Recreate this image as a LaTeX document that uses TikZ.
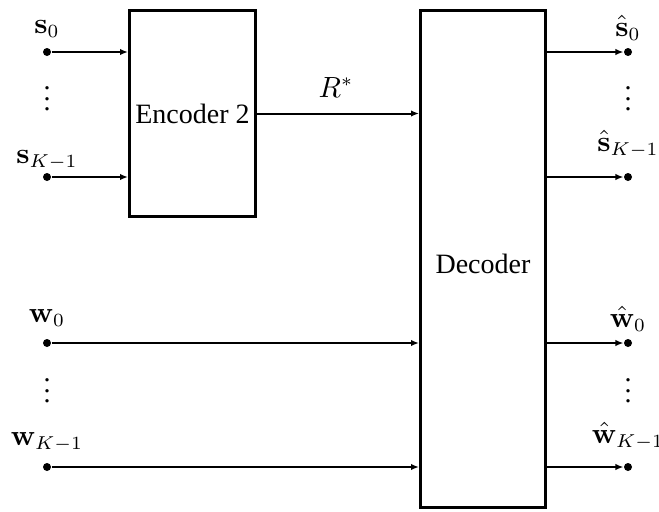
\documentclass[tikz,border=0pt]{standalone}
\usepackage[no-math]{fontspec}
\setmainfont{Liberation Serif}
\usetikzlibrary{arrows.meta}
\begin{document}
\begin{tikzpicture}[x=0.375pt,y=-0.375pt,
  font=\fontsize{10.5}{12}\selectfont,
  blockbox/.style={draw,line width=1.1pt,inner sep=0pt},
  conn/.style={line width=0.75pt,-{Latex[length=3pt,width=2.4pt]}},
  term/.style={circle,fill,inner sep=0pt,minimum size=3pt},
  lbl/.style={anchor=base,inner sep=0pt},
  vd/.style={inner sep=0pt}]
\useasboundingbox (0,0) rectangle (659,511);
% blocks
\node[blockbox,minimum width=126*0.375pt,minimum height=206*0.375pt] (enc) at (192.5,113.5) {};
\node at (enc.center) (enct) {Encoder 2};
\node[blockbox,minimum width=125*0.375pt,minimum height=497*0.375pt] (dec) at (483,259) {};
\node at (483,264) (dect) {Decoder};
% left terminals
\node[term] (s0) at (47,52) {};
\node[term] (sK) at (47,177) {};
\node[term] (w0) at (47,343) {};
\node[term] (wK) at (47,467) {};
% right terminals
\node[term] (hs0) at (628,52) {};
\node[term] (hsK) at (628,177) {};
\node[term] (hw0) at (628,343) {};
\node[term] (hwK) at (628,467) {};
% connectors
\draw[conn] (s0) -- (s0 -| enc.west);
\draw[conn] (sK) -- (sK -| enc.west);
\draw[conn] (enc.east) -- (enc.east -| dec.west);
\draw[conn] (w0) -- (w0 -| dec.west);
\draw[conn] (wK) -- (wK -| dec.west);
\draw[conn] (hs0 -| dec.east) -- (hs0);
\draw[conn] (hsK -| dec.east) -- (hsK);
\draw[conn] (hw0 -| dec.east) -- (hw0);
\draw[conn] (hwK -| dec.east) -- (hwK);
% labels
\node[lbl] (rs) at (336,97) {$R^*$};
\node[lbl] (ls0) at (47,33) {$\mathbf{s}_0$};
\node[lbl] (lsK) at (47,163) {$\mathbf{s}_{K-1}$};
\node[lbl] (lw0) at (47,322) {$\mathbf{w}_0$};
\node[lbl] (lwK) at (47,445) {$\mathbf{w}_{K-1}$};
\node[lbl] (lhs0) at (628,36) {$\hat{\mathbf{s}}_0$};
\node[lbl] (lhsK) at (628,151) {$\hat{\mathbf{s}}_{K-1}$};
\node[lbl] (lhw0) at (628,327) {$\hat{\mathbf{w}}_0$};
\node[lbl] (lhwK) at (628,443) {$\hat{\mathbf{w}}_{K-1}$};
% vertical dots
\node[vd] (d1) at (47,91) {$\vdots$};
\node[vd] (d2) at (47,383) {$\vdots$};
\node[vd] (d3) at (628,91) {$\vdots$};
\node[vd] (d4) at (628,383) {$\vdots$};
\end{tikzpicture}
\end{document}
